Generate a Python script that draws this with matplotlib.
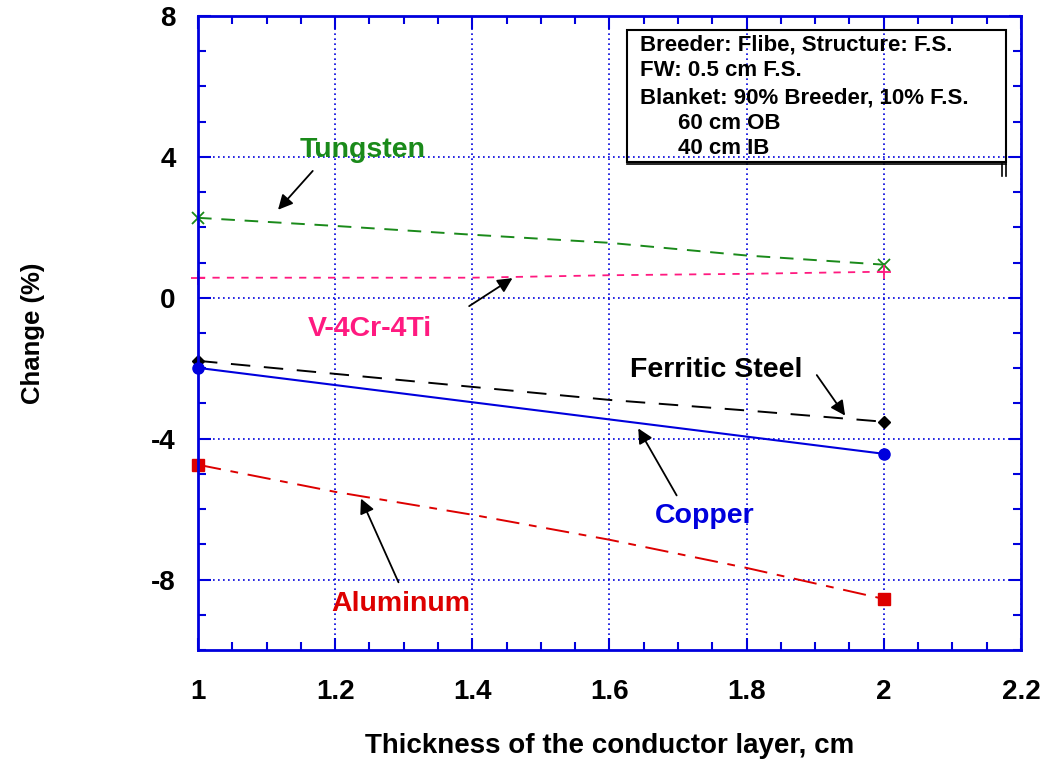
import matplotlib.pyplot as plt
from matplotlib.ticker import MultipleLocator, FuncFormatter
from matplotlib.patches import Rectangle

plt.rcParams['font.family'] = ['Liberation Sans', 'DejaVu Sans']
plt.rcParams['font.weight'] = 'bold'
plt.rcParams['axes.unicode_minus'] = False

# Data
x_pts = [1.0, 1.2, 1.4, 1.6, 1.8, 2.0]
tungsten = [2.27, 2.04, 1.79, 1.56, 1.20, 0.94]
vanadium = [0.57, 0.57, 0.57, 0.64, 0.68, 0.74]
ferritic = [-1.79, -2.16, -2.53, -2.90, -3.20, -3.52]
aluminum = [-4.74, -5.51, -6.16, -6.87, -7.67, -8.55]
x_cu = [1.0, 2.0]
copper = [-1.99, -4.43]

box_lines = ['Breeder: Flibe, Structure: F.S.',
             'FW: 0.5 cm F.S.',
             'Blanket: 90% Breeder, 10% F.S.',
             '60 cm OB',
             '40 cm IB']

blue = '#0000dd'
green = '#1a8a1a'
pink = '#ff1a80'
red = '#dd0000'

fig = plt.figure(figsize=(10.46, 7.62), dpi=100)
ax = fig.add_axes([0.1893, 0.147, 0.7867, 0.832])

ends = [0, len(x_pts) - 1]
ax.plot(x_pts, tungsten, color=green, ls=(0, (7, 5)), lw=1.4, marker='x', ms=8,
        mew=1.3, markevery=ends, clip_on=False)
ax.plot(x_pts, vanadium, color=pink, ls=(0, (4, 4)), lw=1.3, marker='+', ms=10,
        mew=1.3, markevery=ends, clip_on=False)
ax.plot(x_pts, ferritic, color='black', ls=(0, (10, 7)), lw=1.4, marker='D', ms=6,
        markevery=ends, clip_on=False)
ax.plot(x_cu, copper, color=blue, ls='-', lw=1.5, marker='o', ms=8, clip_on=False)
ax.plot(x_pts, aluminum, color=red, ls=(0, (12, 5, 4, 5)), lw=1.4, marker='s', ms=9,
        markevery=ends, clip_on=False)

ax.set_xlim(1, 2.2)
ax.set_ylim(-10, 8)
ax.xaxis.set_major_locator(MultipleLocator(0.2))
ax.xaxis.set_minor_locator(MultipleLocator(0.05))
ax.yaxis.set_major_locator(MultipleLocator(4))
ax.yaxis.set_minor_locator(MultipleLocator(1))
ax.xaxis.set_major_formatter(FuncFormatter(lambda v, p: '%g' % round(v, 2)))
ax.yaxis.set_major_formatter(FuncFormatter(lambda v, p: '%g' % round(v, 2)))

for s in ax.spines.values():
    s.set_color(blue)
    s.set_linewidth(2)
ax.tick_params(which='both', direction='in', top=True, right=True, color=blue,
               labelsize=20)
ax.tick_params(axis='x', pad=21)
ax.tick_params(axis='y', pad=16)
ax.tick_params(which='major', length=9, width=1.5)
ax.tick_params(which='minor', length=6, width=1.5)
ax.grid(True, which='major', color=blue, ls=(0, (1, 2)), lw=1.2)
for lab in ax.get_xticklabels() + ax.get_yticklabels():
    lab.set_fontweight('bold')

ax.set_xlabel('Thickness of the conductor layer, cm', fontsize=20,
              fontweight='bold', labelpad=20)
ax.set_ylabel('Change (%)', fontsize=18.5, fontweight='bold', labelpad=76)

# Annotations
arrow = dict(arrowstyle='-|>', color='black', lw=1.3, mutation_scale=22)
fs = 20.5
ax.text(1.24, 4.2, 'Tungsten', color=green, fontsize=fs, fontweight='bold',
        ha='center', va='center')
ax.annotate('', xy=(1.114, 2.44), xytext=(1.17, 3.66), arrowprops=arrow)
ax.text(1.25, -0.9, 'V-4Cr-4Ti', color=pink, fontsize=fs, fontweight='bold',
        ha='center', va='center')
ax.annotate('', xy=(1.462, 0.6), xytext=(1.392, -0.28), arrowprops=arrow)
ax.text(1.755, -2.05, 'Ferritic Steel', color='black', fontsize=fs,
        fontweight='bold', ha='center', va='center')
ax.annotate('', xy=(1.946, -3.41), xytext=(1.90, -2.13), arrowprops=arrow)
ax.text(1.739, -6.19, 'Copper', color=blue, fontsize=fs, fontweight='bold',
        ha='center', va='center')
ax.annotate('', xy=(1.64, -3.64), xytext=(1.70, -5.68), arrowprops=arrow)
ax.text(1.296, -8.69, 'Aluminum', color=red, fontsize=fs, fontweight='bold',
        ha='center', va='center')
ax.annotate('', xy=(1.236, -5.63), xytext=(1.294, -8.15), arrowprops=arrow)

# Info box
ax.add_patch(Rectangle((1.625, 3.86), 0.553, 3.75, fill=False, ec='black',
                       lw=1.5, zorder=5))
ax.plot([1.625, 2.178], [3.80, 3.80], color='black', lw=1.2, zorder=5)
ax.plot([2.172, 2.172], [3.80, 3.45], color='black', lw=1.2, zorder=5)
ax.plot([2.178, 2.178], [3.80, 3.45], color='black', lw=1.2, zorder=5)
box_y = [7.19, 6.45, 5.68, 4.94, 4.23]
box_x = [1.644, 1.644, 1.644, 1.70, 1.70]
for tx, ty, t in zip(box_x, box_y, box_lines):
    ax.text(tx, ty, t, fontsize=16, fontweight='bold', ha='left', va='center',
            zorder=6)

fig.savefig('out.png', dpi=100)
